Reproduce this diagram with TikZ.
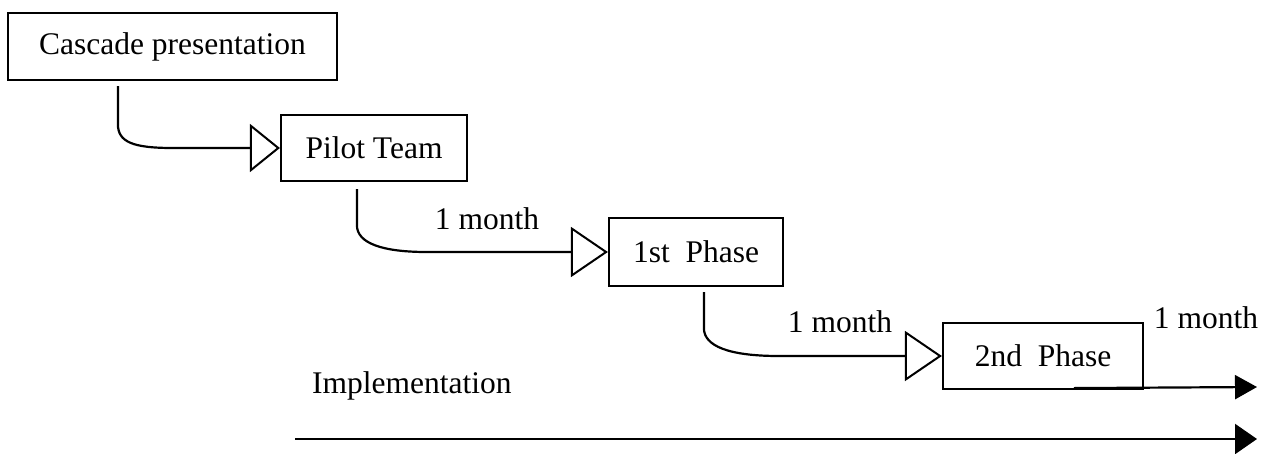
\documentclass[tikz,border=0pt]{standalone}
\usepackage{fontspec}
\setmainfont{Liberation Serif}
\usetikzlibrary{arrows.meta,calc}

\tikzset{
  stagebox/.style={draw, line width=2.2pt, fill=white, inner sep=0pt, font=\fontsize{31.5}{36}\selectfont},
  caption/.style={inner sep=0pt, font=\fontsize{31.5}{36}\selectfont},
  flow/.style={line width=2.2pt, -{Triangle[open, length=37pt, width=50pt, line width=2pt]}},
  flowfirst/.style={line width=2.2pt, -{Triangle[open, length=30pt, width=48pt, line width=2pt]}},
  timeline/.style={line width=2.2pt, -{Triangle[length=22pt, width=24pt]}},
  timelinebig/.style={line width=2.2pt, -{Triangle[length=22pt, width=30pt]}},
}

\begin{document}
\begin{tikzpicture}[x=1pt, y=-1pt]
\useasboundingbox (0,0) rectangle (1275,453);

% stages
\node[stagebox, minimum width=329pt, minimum height=67pt] (cascade) at (172.5,46.5) {Cascade presentation};
\node[stagebox, minimum width=186pt, minimum height=66pt] (pilot) at (374,148) {Pilot Team};
\node[stagebox, minimum width=174pt, minimum height=68pt] (phase1) at (696,252) {1st\ \ Phase};
\node[stagebox, minimum width=200pt, minimum height=66pt] (phase2) at (1043,356) {2nd\ \ Phase};

% durations
\node[caption] (m1) at (487,219) {1 month};
\node[caption] (m2) at (840,322) {1 month};
\node[caption] (m3) at (1206,318) {1 month};
\node[caption, anchor=west] (impl) at (312,386) {Implementation};

% hand-over connectors
\draw[flowfirst] ($(cascade.south west)+(111,5)$) coordinate (c1)
  -- ++(0,38) .. controls +(0,18) and +(-40,0) .. ($(c1 |- pilot.west)+(55,0)$) -- (pilot.west);
\draw[flow] ($(pilot.south west)+(77,7)$) coordinate (c2)
  -- ++(0,36) .. controls +(0,18) and +(-45,0) .. ($(c2 |- phase1.west)+(70,0)$) -- (phase1.west);
\draw[flow] ($(phase1.south west)+(96,5)$) coordinate (c3)
  -- ++(0,36) .. controls +(0,18) and +(-50,0) .. ($(c3 |- phase2.west)+(75,0)$) -- (phase2.west);

% time arrows
\coordinate (t1) at ($(phase2.south west)+(132,-2)$);
\coordinate (t1end) at (1257,387);
\draw[timeline] (t1) -- (t1end);

\coordinate (t2) at (295,439);
\coordinate (t2end) at (1257,439);
\draw[timelinebig] (t2) -- (t2end);
\end{tikzpicture}
\end{document}
